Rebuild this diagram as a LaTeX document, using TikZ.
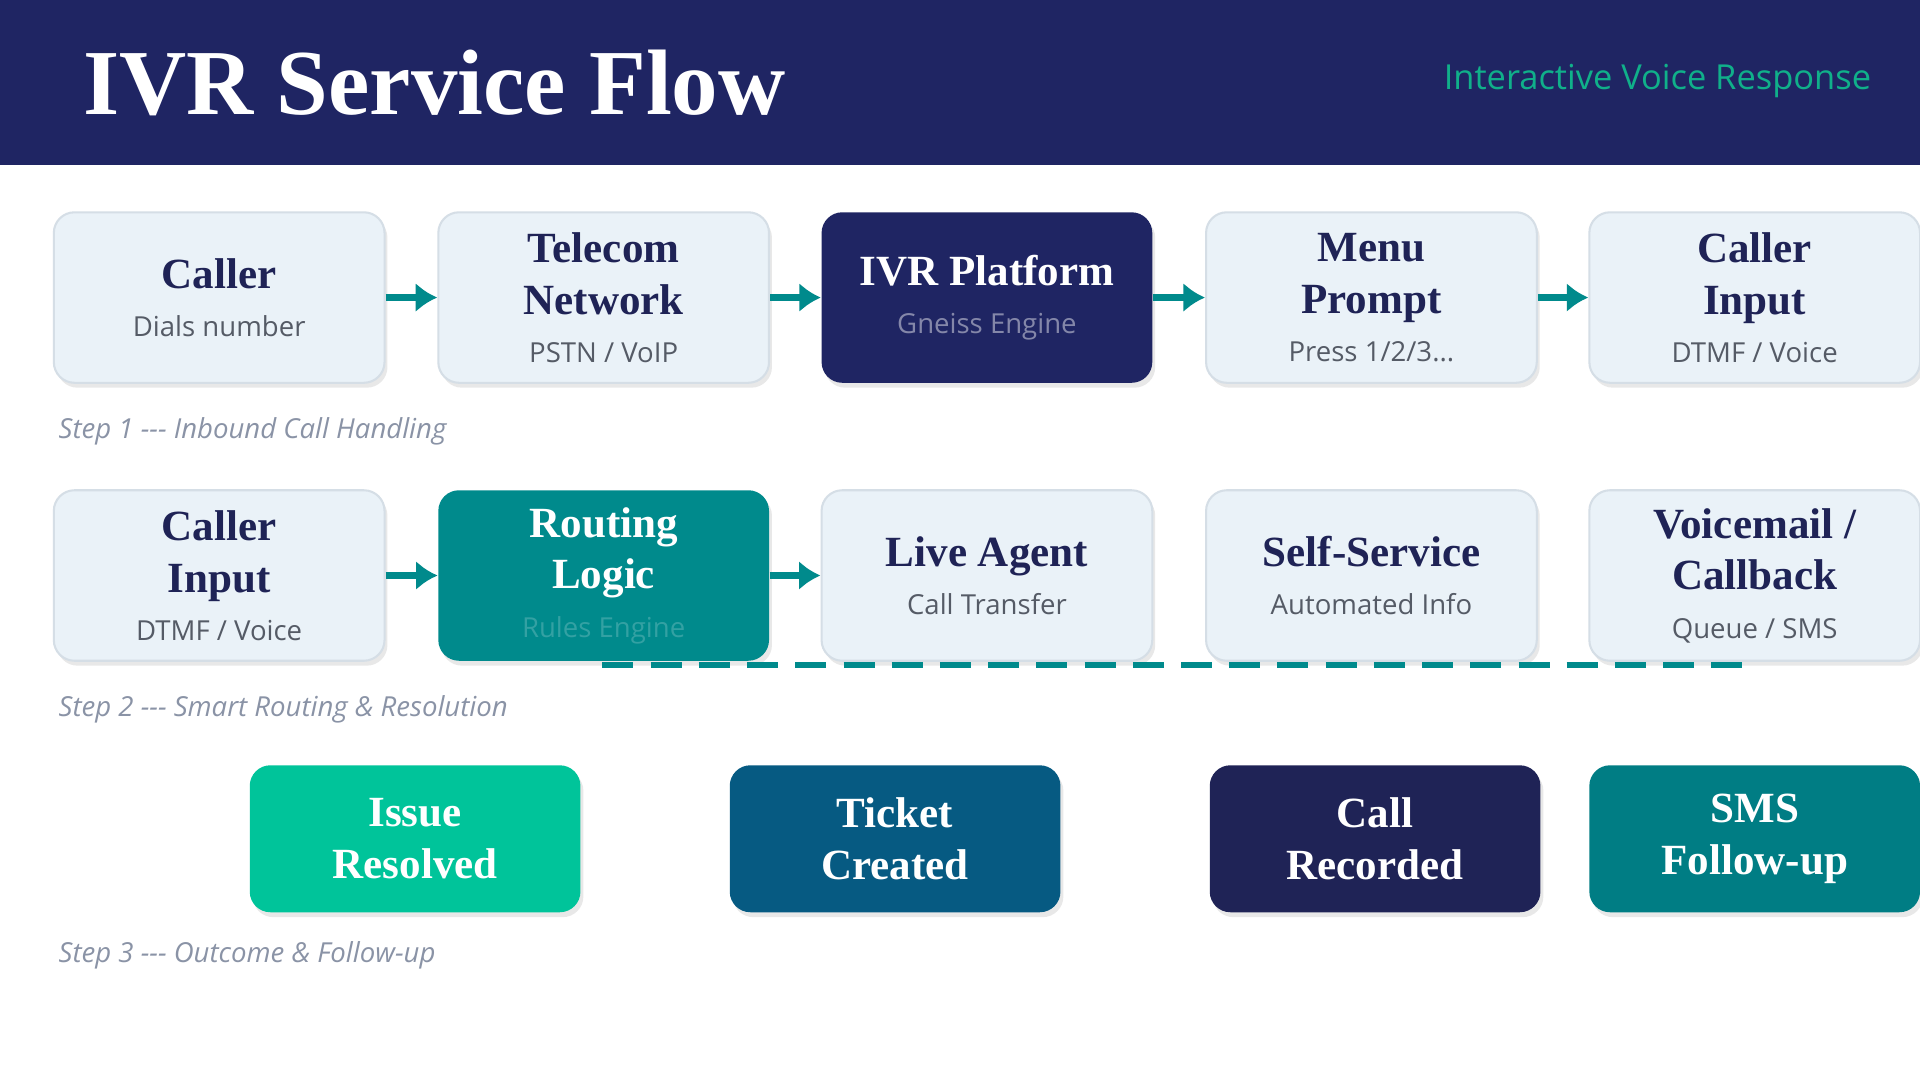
\documentclass[tikz,border=0pt]{standalone}
\usepackage{fontspec}
\setmainfont{Liberation Serif}
\newfontfamily\subf{Open Sans}
\usetikzlibrary{shadows}
\definecolor{navy}{HTML}{1F2563}
\definecolor{dnavy}{HTML}{1F2356}
\definecolor{lightbox}{HTML}{EAF2F8}
\definecolor{lborder}{HTML}{D5DEE6}
\definecolor{teal}{HTML}{008A8C}
\definecolor{mint}{HTML}{00C49A}
\definecolor{ocean}{HTML}{065A82}
\definecolor{tealb}{HTML}{007D84}
\definecolor{subgray}{HTML}{555B66}
\definecolor{steptxt}{HTML}{8A93A6}
\definecolor{greentxt}{HTML}{10B08A}
\tikzset{
 card/.style={rounded corners=6pt, minimum width=3.375cm, minimum height=1.74cm, align=center,
   drop shadow={shadow xshift=0.3mm,shadow yshift=-0.5mm,opacity=0.18}, font=\bfseries\fontsize{12.5}{15}\selectfont},
 lightcard/.style={card, fill=lightbox, draw=lborder, line width=0.6pt, text=dnavy},
 outcard/.style={card, minimum height=1.5cm, text=white},
 flow/.style={draw=teal, line width=2.2pt, -{Latex[length=2.2mm,width=3mm]}},
 steplabel/.style={anchor=west, text=steptxt, font=\subf\itshape\fontsize{8}{10}\selectfont},
}
\usetikzlibrary{arrows.meta}
\newcommand{\subtxt}[2]{\\[-1pt]{\subf\mdseries\fontsize{8}{10}\selectfont\color{#1}#2}}
\begin{document}
\begin{tikzpicture}[x=0.0125cm,y=-0.0125cm]
\useasboundingbox (0,0) rectangle (1568,882);
\clip (0,0) rectangle (1568,882);
\fill[white] (0,0) rectangle (1568,882);
\fill[navy] (0,0) rectangle (1568,135);
\node[anchor=west, text=white, font=\bfseries\fontsize{27}{30}\selectfont] (title) at (58,68) {IVR Service Flow};
\node[anchor=east, text=greentxt, font=\subf\fontsize{10}{12}\selectfont] (subt) at (1538,66) {Interactive Voice Response};
% row 1
\node[lightcard] (a1) at (179,243) {Caller\subtxt{subgray}{Dials number}};
\node[lightcard] (a2) at (493,243) {Telecom\\Network\subtxt{subgray}{PSTN / VoIP}};
\node[card, fill=navy, text=white] (a3) at (806,243) {IVR Platform\subtxt{navy!55!white}{Gneiss Engine}};
\node[lightcard] (a4) at (1120,243) {Menu\\Prompt\subtxt{subgray}{Press 1/2/3...}};
\node[lightcard] (a5) at (1433,243) {Caller\\Input\subtxt{subgray}{DTMF / Voice}};
\foreach \p/\q in {a1/a2,a2/a3,a3/a4,a4/a5} \draw[flow] (\p.east) -- (\q.west);
\node[steplabel] (s1) at (38,352) {Step 1 --- Inbound Call Handling};
% row 2
\node[lightcard] (b1) at (179,470) {Caller\\Input\subtxt{subgray}{DTMF / Voice}};
\node[card, fill=teal, text=white] (b2) at (493,470) {Routing\\Logic\subtxt{teal!80!white}{Rules Engine}};
\node[lightcard] (b3) at (806,470) {Live Agent\subtxt{subgray}{Call Transfer}};
\node[lightcard] (b4) at (1120,470) {Self-Service\subtxt{subgray}{Automated Info}};
\node[lightcard] (b5) at (1433,470) {Voicemail /\\Callback\subtxt{subgray}{Queue / SMS}};
\draw[flow] (b1.east) -- (b2.west);
\draw[flow] (b2.east) -- (b3.west);
\coordinate (d1) at (492,543);
\coordinate (d2) at (1433,543);
\draw[teal, line width=1.8pt, dash pattern=on 9pt off 5pt] (d1) -- (d2);
\node[steplabel] (s2) at (38,579) {Step 2 --- Smart Routing \& Resolution};
% row 3
\node[outcard, fill=mint] (c1) at (339,685) {Issue\\Resolved};
\node[outcard, fill=ocean] (c2) at (731,685) {Ticket\\Created};
\node[outcard, fill=dnavy] (c3) at (1123,685) {Call\\Recorded};
\node[outcard, fill=tealb] (c4) at (1433,685) {SMS\\Follow-up};
\node[steplabel] (s3) at (38,780) {Step 3 --- Outcome \& Follow-up};
\end{tikzpicture}
\end{document}
